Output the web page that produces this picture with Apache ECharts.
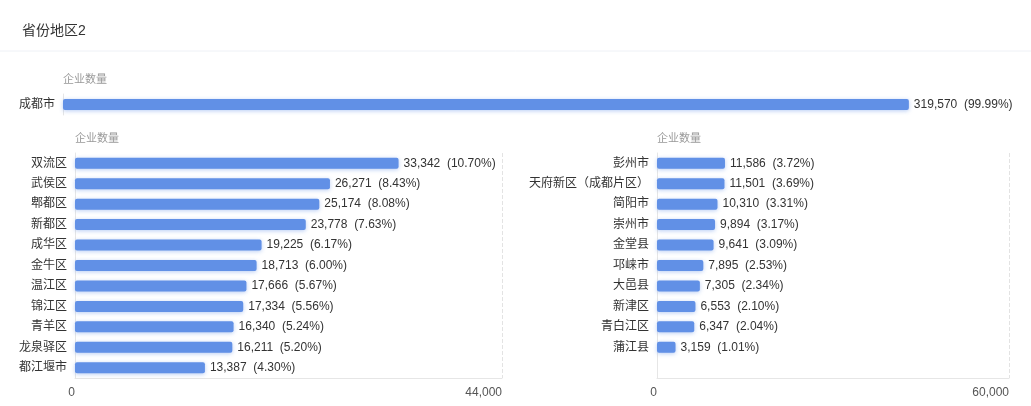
<!DOCTYPE html>
<html>
<head>
<meta charset="utf-8">
<script src="https://cdn.jsdelivr.net/npm/echarts@6/dist/echarts.min.js"></script>
<style>
html,body{margin:0;padding:0;background:#fff;}
#c{width:1031px;height:406px;}
</style>
</head>
<body>
<div id="c"></div>
<script>
const topCats = ['成都市'];
const topVals = [319570];
const topPcts = ['99.99%'];

const leftCats = ['双流区','武侯区','郫都区','新都区','成华区','金牛区','温江区','锦江区','青羊区','龙泉驿区','都江堰市'];
const leftVals = [33342,26271,25174,23778,19225,18713,17666,17334,16340,16211,13387];
const leftPcts = ['10.70%','8.43%','8.08%','7.63%','6.17%','6.00%','5.67%','5.56%','5.24%','5.20%','4.30%'];

const rightCats = ['彭州市','天府新区（成都片区）','简阳市','崇州市','金堂县','邛崃市','大邑县','新津区','青白江区','蒲江县'];
const rightVals = [11586,11501,10310,9894,9641,7895,7305,6553,6347,3159];
const rightPcts = ['3.72%','3.69%','3.31%','3.17%','3.09%','2.53%','2.34%','2.10%','2.04%','1.01%'];

const axisName = '企业数量';
const leftMax = 44000, rightMax = 60000, topMax = 320000;

const FONT = '"Liberation Sans", Arial, "Noto Sans CJK SC", sans-serif';
const BAR = '#6190E6';

function fmt(pcts){
  return p => echarts.format.addCommas(p.value) + '  (' + pcts[p.dataIndex] + ')';
}
function series(idx, vals, pcts){
  return {
    type:'bar', xAxisIndex:idx, yAxisIndex:idx, data:vals, barWidth:11,
    itemStyle:{color:BAR, borderRadius:2, shadowColor:'rgba(97,144,230,0.45)', shadowBlur:4, shadowOffsetY:1},
    label:{show:true, position:'right', distance:5, formatter:fmt(pcts), color:'#333', fontSize:12, fontFamily:FONT},
    silent:true
  };
}
function xAxis(idx, max, show){
  return {
    type:'value', gridIndex:idx, min:0, max:max, interval:max, show:show,
    axisLine:{show:true, lineStyle:{color:'#e6e6e6'}},
    axisTick:{show:false},
    axisLabel:{show:true, align:'right', margin:9, color:'#555', fontSize:12, fontFamily:FONT, formatter:v=>echarts.format.addCommas(v)},
    splitLine:{show:true, lineStyle:{type:'dashed', color:'#e3e3e3'}}
  };
}
function yAxis(idx, cats, extra){
  const a = {
    type:'category', gridIndex:idx, data:cats, inverse:true,
    name:axisName, nameLocation:'start', nameGap:9,
    nameTextStyle:{color:'#999', fontSize:11, fontFamily:FONT, align:'left', padding:[0,0,0,0]},
    axisLine:{show:true, lineStyle:{color:'#e6e6e6'}},
    axisTick:{show:false},
    axisLabel:{color:'#333', fontSize:12, margin:8, fontFamily:FONT}
  };
  if (extra) a.max = cats.length;
  return a;
}

const chart = echarts.init(document.getElementById('c'), null, {renderer:'canvas'});
chart.setOption({
  animation:false,
  title:{text:'省份地区2', left:17, top:19, textStyle:{fontSize:14, fontWeight:'normal', color:'#333', fontFamily:FONT}},
  graphic:[{type:'line', shape:{x1:0,y1:51,x2:1031,y2:51}, style:{stroke:'#eef1f6', lineWidth:1}}],
  grid:[
    {left:63, top:94, width:847, height:21},
    {left:75, top:153, width:427, height:225},
    {left:657, top:153, width:352, height:225}
  ],
  xAxis:[xAxis(0, topMax, false), xAxis(1, leftMax, true), xAxis(2, rightMax, true)],
  yAxis:[yAxis(0, topCats, false), yAxis(1, leftCats, false), yAxis(2, rightCats, true)],
  series:[series(0, topVals, topPcts), series(1, leftVals, leftPcts), series(2, rightVals, rightPcts)]
});
</script>
</body>
</html>
